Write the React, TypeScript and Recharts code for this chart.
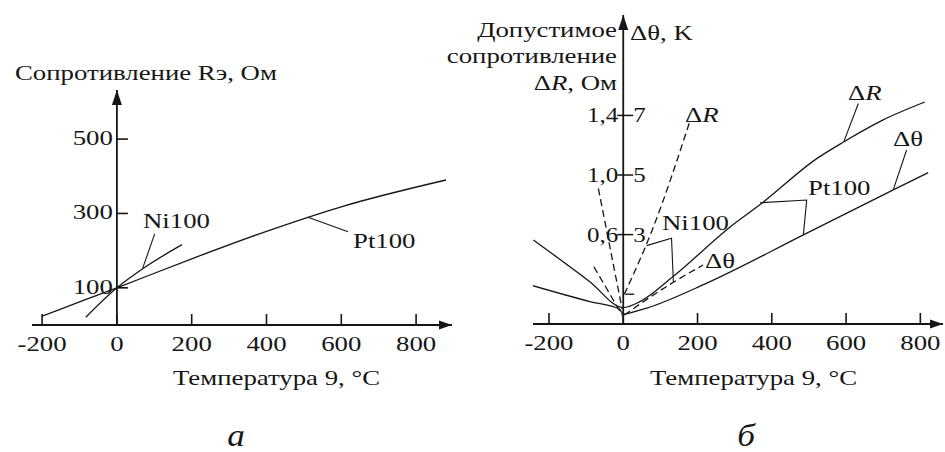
import React from 'react';
import { LineChart, Line, XAxis, YAxis, ReferenceLine, ReferenceDot } from 'recharts';

document.body.style.margin = '0';

const FONT = "'Liberation Serif', 'Times New Roman', serif";
const INK = '#161616';

// ---- panel a: resistance vs temperature ----
const tempTicksA = [-200, 0, 200, 400, 600, 800];
const resistTicksA = [100, 300, 500];
const pt100Resist = [[-200, 24], [-100, 62], [0, 100], [200, 178], [400, 252], [600, 318], [880, 390]];
const ni100Resist = [[-83, 21], [0, 100], [70, 152], [174, 216]];
// leader lines for the labels (temperature, ohm)
const ni100LeaderA = [[69, 153], [101, 245]];
const pt100LeaderA = [[511, 290], [618, 251]];

// ---- panel b: tolerances ----
const tempTicksB = [-200, 0, 200, 400, 600, 800];
const ohmTicksB = [0.6, 1.0, 1.4];
const kelvinTicksB = [3, 5, 7];
const kelvinMinorB = [1];
// Pt100, delta R in ohm and delta theta in K
const pt100DeltaR = [[-242, 0.564], [-90, 0.284], [0, 0.11], [45, 0.15], [135, 0.32], [287, 0.65],
  [373, 0.81], [521, 1.11], [592, 1.22], [700, 1.37], [812, 1.49]];
const pt100DeltaT = [[-245, 1.29], [-90, 0.75], [-10, 0.5], [0, 0.32], [14, 0.36], [63, 0.53],
  [225, 1.37], [485, 2.99], [727, 4.5], [821, 5.08]];
// Ni100 (dashed)
const ni100DeltaRNeg = [[-67, 0.91], [-3, 0.1]];
const ni100DeltaRPos = [[3, 0.2], [81, 0.65], [178, 1.35]];
const ni100DeltaTNeg = [[-79, 1.92], [-3, 0.3]];
const ni100DeltaTPos = [[3, 0.3], [45, 0.67], [135, 1.4], [215, 1.98]];
// leaders (temperature, K)
const ni100LeaderB = [[63, 2.63], [130, 2.88], [135, 1.41]];
const pt100LeaderB = [[368, 4.07], [494, 4.16], [485, 2.99]];
const deltaRLeaderB = [[633, 7.4], [594, 6.12]];
const deltaTLeaderB = [[763, 5.84], [727, 4.5]];

const pts = (a: number[][]) => a.map(([t, v]) => ({ t, v }));
const fmtOhm = (v: number) => v.toFixed(1).replace('.', ',');

const Txt = ({ x, y, anchor = 'start', size = 20, sx = 1.34, italic = false, children }: any) => (
  <text
    transform={`translate(${x},${y}) scale(${sx},1)`}
    textAnchor={anchor}
    fontSize={size}
    fontFamily={FONT}
    fontStyle={italic ? 'italic' : 'normal'}
    fill={INK}
  >
    {children}
  </text>
);

const XTick = (p: any) => (
  <g>
    <line x1={p.x} x2={p.x} y1={p.y} y2={p.y - 11} stroke={INK} strokeWidth={1.6} />
    <Txt x={p.x} y={p.y + 26} anchor="middle">{p.payload.value}</Txt>
  </g>
);

const ArrowUp = (p: any) => (
  <path d={`M${p.cx},${p.cy} L${p.cx - 5},${p.cy + 15} L${p.cx + 5},${p.cy + 15} Z`} fill={INK} />
);
const ArrowRight = (p: any) => (
  <path d={`M${p.cx},${p.cy} L${p.cx - 13},${p.cy - 4.5} L${p.cx - 13},${p.cy + 4.5} Z`} fill={INK} />
);

const solid = { stroke: INK, strokeWidth: 1.3, dot: false, isAnimationActive: false, legendType: 'none' as const };
const leader = { stroke: INK, strokeWidth: 1.1, dot: false, isAnimationActive: false, type: 'linear' as const };

function PanelA() {
  return (
    <LineChart width={470} height={452} margin={{ top: 90, right: 18, bottom: 97, left: 32 }}>
      <XAxis
        type="number" dataKey="t" domain={[-227, 896]} allowDataOverflow
        ticks={tempTicksA} interval={0} tickLine={false} tickSize={0} tickMargin={0} height={30}
        axisLine={{ stroke: INK, strokeWidth: 1.8 }}
        tick={(p: any) => <XTick {...p} />}
      />
      <YAxis type="number" hide domain={[0, 632]} allowDataOverflow />
      <ReferenceLine x={0} stroke={INK} strokeWidth={1.8} />
      <ReferenceDot x={0} y={632} ifOverflow="visible" shape={ArrowUp} />
      <ReferenceDot x={896} y={0} ifOverflow="visible" shape={ArrowRight} />
      {resistTicksA.map((v) => (
        <ReferenceDot key={v} x={0} y={v} ifOverflow="visible" shape={(p: any) => (
          <g>
            <line x1={p.cx} x2={p.cx + 11} y1={p.cy} y2={p.cy} stroke={INK} strokeWidth={1.6} />
            <Txt x={p.cx - 4} y={p.cy + 6} anchor="end">{v}</Txt>
          </g>
        )} />
      ))}
      <Line data={pts(pt100Resist)} dataKey="v" type="monotone" {...solid} />
      <Line data={pts(ni100Resist)} dataKey="v" type="monotone" {...solid} />
      <Line data={pts(ni100LeaderA)} dataKey="v" {...leader} />
      <Line data={pts(pt100LeaderA)} dataKey="v" {...leader} />
    </LineChart>
  );
}

function PanelB() {
  const dash = '7 4';
  return (
    <LineChart width={475} height={452} margin={{ top: 15, right: 2, bottom: 98, left: 63 }}>
      <XAxis
        type="number" dataKey="t" domain={[-243, 861]} allowDataOverflow
        ticks={tempTicksB} interval={0} tickLine={false} tickSize={0} tickMargin={0} height={30}
        axisLine={{ stroke: INK, strokeWidth: 1.8 }}
        tick={(p: any) => <XTick {...p} />}
      />
      <YAxis yAxisId="K" type="number" hide domain={[0, 10.37]} allowDataOverflow />
      <YAxis yAxisId="R" type="number" hide domain={[0, 2.074]} allowDataOverflow />
      <ReferenceLine yAxisId="K" x={0} stroke={INK} strokeWidth={1.8} />
      <ReferenceDot yAxisId="K" x={0} y={10.37} ifOverflow="visible" shape={ArrowUp} />
      <ReferenceDot yAxisId="K" x={861} y={0} ifOverflow="visible" shape={ArrowRight} />
      {ohmTicksB.map((v) => (
        <ReferenceDot key={'r' + v} yAxisId="R" x={0} y={v} ifOverflow="visible" shape={(p: any) => (
          <g>
            <line x1={p.cx - 6} x2={p.cx} y1={p.cy} y2={p.cy} stroke={INK} strokeWidth={1.5} />
            <Txt x={p.cx - 5} y={p.cy + 7} anchor="end" sx={1.25}>{fmtOhm(v)}</Txt>
          </g>
        )} />
      ))}
      {kelvinTicksB.map((v) => (
        <ReferenceDot key={'k' + v} yAxisId="K" x={0} y={v} ifOverflow="visible" shape={(p: any) => (
          <g>
            <line x1={p.cx} x2={p.cx + 10} y1={p.cy} y2={p.cy} stroke={INK} strokeWidth={1.5} />
            <Txt x={p.cx + 10} y={p.cy + 7} sx={1.25}>{v}</Txt>
          </g>
        )} />
      ))}
      {kelvinMinorB.map((v) => (
        <ReferenceDot key={'m' + v} yAxisId="K" x={0} y={v} ifOverflow="visible" shape={(p: any) => (
          <line x1={p.cx + 2} x2={p.cx + 11} y1={p.cy} y2={p.cy} stroke={INK} strokeWidth={1.3} />
        )} />
      ))}
      <Line yAxisId="R" data={pts(pt100DeltaR)} dataKey="v" type="monotone" {...solid} />
      <Line yAxisId="K" data={pts(pt100DeltaT)} dataKey="v" type="monotone" {...solid} />
      <Line yAxisId="R" data={pts(ni100DeltaRNeg)} dataKey="v" type="linear" {...solid} strokeDasharray={dash} />
      <Line yAxisId="R" data={pts(ni100DeltaRPos)} dataKey="v" type="monotone" {...solid} strokeDasharray={dash} />
      <Line yAxisId="K" data={pts(ni100DeltaTNeg)} dataKey="v" type="linear" {...solid} strokeDasharray={dash} />
      <Line yAxisId="K" data={pts(ni100DeltaTPos)} dataKey="v" type="monotone" {...solid} strokeDasharray={dash} />
      <Line yAxisId="K" data={pts(ni100LeaderB)} dataKey="v" {...leader} />
      <Line yAxisId="K" data={pts(pt100LeaderB)} dataKey="v" {...leader} />
      <Line yAxisId="K" data={pts(deltaRLeaderB)} dataKey="v" {...leader} />
      <Line yAxisId="K" data={pts(deltaTLeaderB)} dataKey="v" {...leader} />
    </LineChart>
  );
}

export default function App() {
  return (
    <div style={{ position: 'relative', width: 945, height: 452, background: '#fff', overflow: 'hidden' }}>
      <div style={{ position: 'absolute', left: 0, top: 0 }}><PanelA /></div>
      <div style={{ position: 'absolute', left: 470, top: 0 }}><PanelB /></div>
      <svg width={945} height={452} style={{ position: 'absolute', left: 0, top: 0, pointerEvents: 'none' }}>
        {/* panel a texts */}
        <Txt x={15} y={80}>Сопротивление Rэ, Ом</Txt>
        <Txt x={173} y={385}>Температура 9, °С</Txt>
        <Txt x={143} y={228}>Ni100</Txt>
        <Txt x={353} y={248}>Pt100</Txt>
        <Txt x={236} y={446} anchor="middle" size={32} sx={1.1} italic>а</Txt>
        {/* panel b texts */}
        <Txt x={617} y={37} anchor="end">Допустимое</Txt>
        <Txt x={617} y={63} anchor="end">сопротивление</Txt>
        <Txt x={617} y={90} anchor="end">Δ<tspan fontStyle="italic">R</tspan>, Ом</Txt>
        <Txt x={630} y={40}>Δθ, K</Txt>
        <Txt x={650} y={385}>Температура 9, °С</Txt>
        <Txt x={662} y={230}>Ni100</Txt>
        <Txt x={808} y={195}>Pt100</Txt>
        <Txt x={848} y={100}>Δ<tspan fontStyle="italic">R</tspan></Txt>
        <Txt x={893} y={146}>Δθ</Txt>
        <Txt x={705} y={268}>Δθ</Txt>
        <Txt x={685} y={122}>Δ<tspan fontStyle="italic">R</tspan></Txt>
        <Txt x={746} y={446} anchor="middle" size={32} sx={1.1} italic>б</Txt>
      </svg>
    </div>
  );
}
